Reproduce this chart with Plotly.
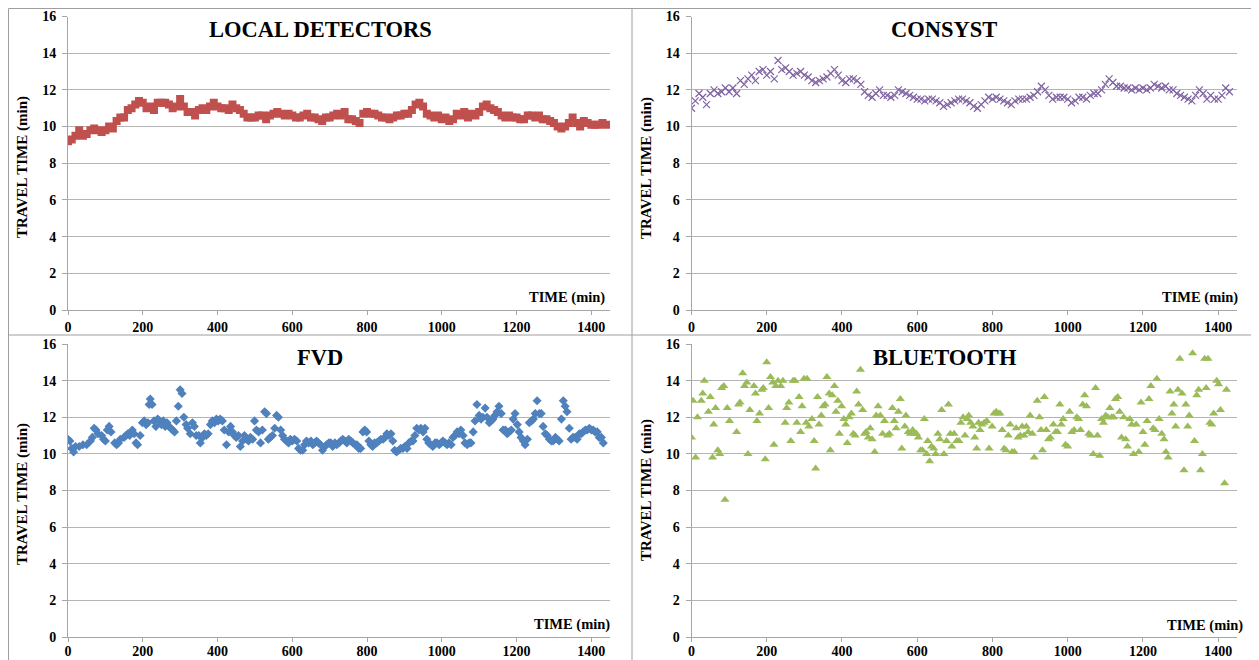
import plotly.graph_objects as go

# ---------------- DATA ----------------
LD_T = list(range(0, 1441, 10))
LD_V = [9.2, 9.3, 9.5, 9.8, 9.5, 9.6, 9.8, 9.9, 9.8, 9.7,
        9.8, 10.0, 9.9, 10.3, 10.5, 10.5, 10.9, 11.0, 11.2, 11.4,
        11.3, 11.0, 11.1, 10.9, 11.3, 11.3, 11.3, 11.2, 11.0, 11.1,
        11.5, 11.1, 10.8, 10.8, 10.6, 10.9, 11.0, 10.9, 11.1, 11.3,
        11.1, 11.0, 11.0, 10.9, 11.2, 11.0, 10.9, 10.7, 10.5, 10.5,
        10.5, 10.6, 10.6, 10.4, 10.6, 10.7, 10.8, 10.7, 10.6, 10.7,
        10.6, 10.5, 10.5, 10.6, 10.7, 10.5, 10.5, 10.4, 10.3, 10.5,
        10.5, 10.6, 10.7, 10.6, 10.8, 10.4, 10.4, 10.3, 10.2, 10.7,
        10.8, 10.7, 10.7, 10.6, 10.5, 10.5, 10.4, 10.5, 10.6, 10.6,
        10.7, 10.7, 10.9, 11.2, 11.3, 11.1, 10.7, 10.6, 10.5, 10.6,
        10.4, 10.5, 10.3, 10.4, 10.7, 10.6, 10.8, 10.5, 10.7, 10.6,
        10.8, 11.1, 11.2, 11.0, 10.9, 10.8, 10.6, 10.5, 10.6, 10.5,
        10.5, 10.4, 10.4, 10.6, 10.6, 10.5, 10.6, 10.4, 10.4, 10.3,
        10.2, 10.0, 9.9, 10.0, 10.2, 10.5, 10.2, 10.0, 10.3, 10.2,
        10.1, 10.1, 10.1, 10.2, 10.1]

CS_T = list(range(0, 1431, 10))
CS_V = [11.0, 11.4, 11.8, 11.6, 11.2, 11.8, 12.0, 11.8, 11.9, 12.1,
        11.9, 12.1, 11.8, 12.5, 12.3, 12.6, 12.8, 12.5, 13.0, 13.1,
        12.8, 13.0, 12.6, 13.6, 13.1, 13.2, 13.0, 12.8, 12.9, 13.0,
        12.8, 12.7, 12.5, 12.4, 12.5, 12.6, 12.7, 12.9, 13.1, 12.8,
        12.5, 12.4, 12.6, 12.6, 12.5, 12.3, 11.9, 11.7, 11.6, 11.8,
        12.0, 11.7, 11.7, 11.6, 11.7, 12.0, 11.9, 11.8, 11.7, 11.6,
        11.5, 11.5, 11.4, 11.5, 11.5, 11.4, 11.3, 11.1, 11.2, 11.3,
        11.4, 11.5, 11.5, 11.4, 11.3, 11.1, 11.0, 11.2, 11.4, 11.6,
        11.5, 11.6, 11.5, 11.4, 11.3, 11.2, 11.4, 11.5, 11.5, 11.5,
        11.6, 11.7, 11.9, 12.2, 12.0, 11.7, 11.5, 11.6, 11.6, 11.6,
        11.5, 11.3, 11.4, 11.6, 11.6, 11.5, 11.7, 11.8, 11.8, 12.0,
        12.3, 12.6, 12.4, 12.2, 12.2, 12.1, 12.1, 12.0, 12.1, 12.0,
        12.1, 12.0, 12.1, 12.3, 12.2, 12.1, 12.2, 12.0, 12.0, 11.8,
        11.7, 11.6, 11.5, 11.4, 11.7, 12.0, 11.8, 11.5, 11.7, 11.5,
        11.5, 11.7, 12.1, 11.9]

FVD_T = [0, 5, 10, 15, 20, 30, 40, 50, 60, 65, 70, 75, 80, 90, 95, 100, 105, 110, 115, 125,
         130, 135, 140, 150, 155, 160, 165, 172, 177, 182, 186, 193, 199, 204, 209, 214, 217, 220, 225, 230,
         235, 240, 245, 250, 255, 260, 265, 270, 275, 280, 285, 290, 295, 300, 305, 310, 316, 320, 327, 333,
         338, 343, 350, 354, 360, 365, 370, 375, 381, 386, 392, 397, 402, 407, 413, 418, 424, 430, 435, 440,
         445, 450, 456, 461, 467, 472, 478, 483, 488, 494, 499, 504, 510, 515, 520, 526, 531, 536, 541, 547,
         553, 558, 563, 569, 574, 579, 585, 590, 595, 600, 606, 612, 617, 622, 628, 633, 638, 644, 650, 655,
         660, 665, 670, 676, 681, 687, 692, 698, 703, 708, 714, 719, 725, 730, 735, 741, 746, 751, 757, 762,
         768, 773, 778, 783, 789, 794, 799, 805, 810, 815, 820, 826, 832, 837, 843, 848, 853, 859, 864, 869,
         874, 879, 885, 890, 896, 901, 907, 912, 918, 923, 928, 933, 939, 944, 950, 955, 960, 965, 971, 976,
         982, 987, 993, 998, 1003, 1009, 1014, 1019, 1025, 1030, 1035, 1041, 1046, 1051, 1057, 1062, 1068, 1073, 1078, 1084,
         1089, 1094, 1100, 1105, 1110, 1116, 1121, 1127, 1132, 1137, 1142, 1148, 1153, 1159, 1164, 1170, 1175, 1180, 1186, 1191,
         1196, 1202, 1207, 1212, 1218, 1223, 1229, 1234, 1240, 1245, 1250, 1255, 1261, 1266, 1271, 1277, 1282, 1288, 1293, 1298,
         1304, 1309, 1314, 1320, 1325, 1330, 1335, 1341, 1346, 1351, 1357, 1362, 1368, 1373, 1378, 1384, 1389, 1395, 1400, 1405,
         1410, 1416, 1421, 1427, 1432]
FVD_V = [10.8, 10.7, 10.3, 10.1, 10.4, 10.4, 10.5, 10.5, 10.7, 10.9, 11.4, 11.3, 11.1, 11.0, 10.8, 10.7, 11.3, 11.5, 11.2, 10.6,
         10.5, 10.6, 10.8, 10.9, 11.0, 11.1, 11.0, 11.3, 11.1, 10.6, 10.5, 11.0, 11.7, 11.8, 11.6, 11.7, 12.7, 13.0, 12.7, 11.8,
         11.5, 11.9, 11.8, 11.6, 11.8, 11.5, 11.7, 11.5, 11.4, 11.3, 11.2, 11.8, 12.6, 13.5, 13.3, 12.0, 11.6, 11.4, 11.1, 11.7,
         11.5, 11.0, 11.0, 10.6, 10.9, 11.1, 11.0, 11.1, 11.6, 11.8, 11.7, 11.9, 11.8, 11.9, 11.8, 11.3, 10.5, 11.2, 11.5, 11.2,
         11.0, 10.9, 11.0, 10.4, 10.7, 11.0, 10.8, 10.7, 10.9, 10.8, 11.8, 11.3, 11.2, 10.6, 11.3, 12.3, 12.2, 10.8, 10.9, 11.0,
         11.4, 12.1, 12.0, 11.3, 11.0, 10.8, 10.7, 10.6, 10.8, 10.7, 10.8, 10.7, 10.3, 10.2, 10.2, 10.5, 10.7, 10.6, 10.7, 10.5,
         10.6, 10.7, 10.6, 10.5, 10.2, 10.4, 10.5, 10.6, 10.6, 10.4, 10.6, 10.5, 10.6, 10.7, 10.8, 10.7, 10.6, 10.8, 10.7, 10.6,
         10.5, 10.5, 10.3, 10.3, 11.2, 11.3, 11.2, 10.7, 10.5, 10.4, 10.6, 10.6, 10.7, 10.8, 10.8, 10.9, 11.1, 11.0, 11.1, 10.7,
         10.2, 10.1, 10.2, 10.3, 10.3, 10.4, 10.3, 10.6, 10.7, 10.7, 11.0, 11.4, 11.3, 11.4, 11.2, 11.4, 10.8, 10.6, 10.5, 10.4,
         10.6, 10.6, 10.5, 10.6, 10.7, 10.6, 10.5, 10.6, 10.5, 10.9, 11.0, 11.2, 11.1, 11.3, 11.0, 10.6, 10.5, 10.6, 10.6, 11.2,
         11.8, 12.7, 12.1, 11.9, 12.0, 12.5, 12.0, 11.7, 11.8, 11.9, 12.1, 12.3, 12.6, 12.2, 11.3, 11.3, 11.1, 11.2, 11.3, 11.9,
         12.2, 11.6, 11.2, 10.9, 10.7, 10.5, 10.8, 11.7, 11.8, 11.9, 12.2, 12.9, 12.2, 12.2, 11.5, 11.1, 11.0, 10.8, 10.7, 10.7,
         10.9, 10.8, 10.7, 11.9, 12.9, 12.6, 12.3, 11.4, 10.8, 10.9, 10.9, 10.8, 11.1, 11.1, 11.2, 11.3, 11.3, 11.4, 11.3, 11.3,
         11.2, 11.2, 10.9, 10.9, 10.6]

BT_T = [0, 4, 11, 16, 26, 30, 34, 45, 50, 56, 59, 64, 70, 75, 80, 86, 89, 95, 101, 120,
        125, 129, 136, 141, 147, 150, 155, 166, 170, 174, 181, 187, 191, 196, 200, 205, 210, 216, 219, 224,
        230, 237, 243, 249, 253, 259, 264, 270, 275, 280, 286, 290, 294, 299, 305, 307, 312, 320, 326, 330,
        335, 339, 345, 350, 355, 360, 366, 369, 374, 380, 384, 389, 393, 399, 405, 410, 414, 419, 425, 430,
        435, 439, 444, 449, 455, 460, 464, 470, 475, 480, 487, 491, 496, 502, 508, 513, 521, 526, 534, 539,
        544, 550, 555, 559, 567, 570, 576, 582, 588, 593, 598, 603, 609, 614, 619, 625, 628, 633, 638, 644,
        649, 655, 660, 665, 671, 678, 683, 688, 692, 698, 705, 711, 716, 722, 727, 733, 737, 742, 748, 753,
        758, 763, 767, 772, 778, 785, 791, 799, 804, 810, 815, 820, 826, 831, 836, 842, 847, 852, 858, 863,
        868, 874, 879, 884, 890, 895, 900, 906, 911, 919, 925, 929, 933, 938, 943, 949, 954, 962, 968, 973,
        979, 983, 988, 994, 1000, 1005, 1011, 1017, 1024, 1029, 1034, 1040, 1045, 1050, 1056, 1061, 1068, 1074, 1079, 1085,
        1090, 1095, 1101, 1107, 1112, 1117, 1122, 1127, 1133, 1138, 1143, 1149, 1154, 1159, 1165, 1170, 1175, 1182, 1189, 1195,
        1200, 1205, 1211, 1216, 1221, 1227, 1232, 1237, 1243, 1250, 1256, 1261, 1267, 1272, 1277, 1282, 1287, 1293, 1298, 1304,
        1309, 1314, 1319, 1323, 1332, 1337, 1343, 1348, 1353, 1358, 1364, 1368, 1373, 1378, 1383, 1388, 1396, 1401, 1406, 1417,
        1422]
BT_V = [10.9, 12.9, 9.8, 12.0, 12.9, 13.3, 14.0, 12.3, 13.1, 9.8, 11.6, 12.5, 10.2, 10.0, 13.6, 13.7, 7.5, 12.5, 11.8, 11.2,
        12.7, 12.8, 14.4, 13.7, 13.9, 10.0, 12.4, 13.7, 13.3, 11.8, 12.2, 13.5, 13.6, 9.7, 15.0, 12.5, 14.2, 13.9, 10.5, 13.7,
        14.0, 13.7, 14.0, 11.7, 12.5, 12.8, 10.7, 14.0, 14.0, 11.7, 13.1, 11.2, 12.6, 14.1, 11.7, 14.1, 11.5, 11.9, 10.7, 9.2,
        13.1, 11.6, 12.1, 12.6, 12.7, 14.2, 13.3, 10.2, 13.2, 13.7, 12.3, 12.9, 11.1, 12.6, 11.9, 11.6, 10.6, 12.0, 12.2, 11.1,
        11.0, 13.4, 12.7, 14.6, 12.4, 11.1, 11.2, 10.9, 11.4, 10.8, 10.1, 12.1, 12.6, 12.1, 11.1, 11.8, 11.0, 11.1, 12.5, 11.8,
        11.4, 12.3, 13.0, 10.3, 11.5, 12.1, 11.2, 11.1, 11.3, 11.1, 11.1, 10.9, 10.2, 10.2, 11.9, 10.0, 10.7, 9.6, 10.4, 10.3,
        10.0, 11.1, 10.8, 12.4, 10.0, 10.7, 12.7, 11.1, 10.4, 11.1, 10.7, 10.7, 11.7, 12.0, 11.0, 11.9, 12.1, 11.7, 11.5, 10.9,
        10.3, 11.7, 11.3, 11.6, 11.7, 11.8, 10.3, 11.5, 12.2, 12.3, 12.2, 12.2, 11.3, 10.3, 10.2, 11.0, 11.6, 10.1, 10.1, 11.4,
        10.9, 11.0, 11.5, 11.0, 11.5, 11.2, 12.1, 11.1, 9.8, 12.9, 12.0, 11.3, 10.2, 13.1, 11.3, 10.8, 10.9, 11.6, 11.2, 11.2,
        12.7, 11.6, 11.9, 10.5, 10.4, 12.3, 11.2, 11.3, 12.0, 11.9, 11.3, 12.7, 13.2, 12.6, 11.1, 11.0, 10.0, 13.6, 11.0, 9.9,
        11.9, 11.7, 12.1, 12.0, 12.5, 12.0, 12.0, 13.0, 13.1, 12.3, 10.9, 12.0, 10.8, 10.4, 11.9, 11.6, 10.0, 11.6, 10.1, 12.8,
        11.2, 10.5, 11.8, 13.0, 13.7, 11.4, 11.3, 14.1, 11.9, 11.1, 10.8, 10.1, 9.8, 13.4, 12.2, 12.7, 11.5, 13.5, 15.2, 13.3,
        9.1, 12.7, 11.5, 12.1, 15.5, 10.7, 13.2, 13.5, 9.1, 10.0, 15.2, 13.6, 15.2, 11.7, 11.6, 12.2, 14.0, 13.8, 12.4, 8.4,
        13.5]

TITLES = ["LOCAL DETECTORS", "CONSYST", "FVD", "BLUETOOTH"]
X_TICKS = [0, 200, 400, 600, 800, 1000, 1200, 1400]
Y_TICKS = [0, 2, 4, 6, 8, 10, 12, 14, 16]
Y_TITLE = "TRAVEL TIME (min)"
X_TITLE = "TIME (min)"

# ---------------- LAYOUT HELPERS ----------------
# The page body has an 8px margin, so the figure starts at (8, 8) in the window.
OFF = 8
W, H = 1259 - OFF, 660 - OFF
FONT = "Liberation Serif, Times New Roman, serif"


def fx(p):
    return (p - OFF) / W


def fy(p):
    return 1 - (p - OFF) / H


fig = go.Figure()

panels = [
    dict(t=LD_T, v=LD_V, color="#C0504D", symbol="square", size=8, xd=(68, 610), yd=(16.5, 310),
         title_xy=(320, 29), ytitle_xy=(22, 167), xtitle_xy=(607, 297), xstand=0),
    dict(t=CS_T, v=CS_V, color="#8064A2", symbol="x-thin", size=7, xd=(691.5, 1237), yd=(16.5, 310),
         title_xy=(944, 29), ytitle_xy=(646, 168), xtitle_xy=(1240, 297), xstand=0),
    dict(t=FVD_T, v=FVD_V, color="#4F81BD", symbol="diamond", size=7, xd=(68, 610), yd=(344, 637),
         title_xy=(320, 357), ytitle_xy=(22, 494), xtitle_xy=(612, 624), xstand=-3),
    dict(t=BT_T, v=BT_V, color="#9BBB59", symbol="triangle-up", size=8, xd=(691.5, 1237), yd=(344, 637),
         title_xy=(945, 357), ytitle_xy=(647, 490), xtitle_xy=(1245, 625), xstand=-3),
]

annotations = []
for i, p in enumerate(panels):
    k = "" if i == 0 else str(i + 1)
    marker = dict(symbol=p["symbol"], size=p["size"], color=p["color"])
    if p["symbol"] == "x-thin":
        marker["line"] = dict(width=1.2, color=p["color"])
    else:
        marker["line"] = dict(width=0)
    fig.add_trace(go.Scatter(x=p["t"], y=p["v"], mode="markers", marker=marker,
                             xaxis="x" + k, yaxis="y" + k, showlegend=False, name=TITLES[i]))
    fig.layout["xaxis" + k] = dict(
        domain=[fx(p["xd"][0]), fx(p["xd"][1])], range=[0, 1450], anchor="y" + k,
        tickvals=X_TICKS, showgrid=False, zeroline=False, showline=True, linecolor="#A6A6A6",
        ticks="outside", ticklen=4, tickcolor="#A6A6A6", automargin=False,
        ticklabelstandoff=p["xstand"],
        tickfont=dict(family=FONT, size=14, color="black", weight="bold"), fixedrange=True)
    fig.layout["yaxis" + k] = dict(
        domain=[fy(p["yd"][1]), fy(p["yd"][0])], range=[0, 16], anchor="x" + k,
        tickvals=Y_TICKS, showgrid=True, gridcolor="#B4B4B4", gridwidth=1, zeroline=False,
        showline=True, linecolor="#A6A6A6", ticks="outside", ticklen=5, tickcolor="#A6A6A6",
        ticklabelstandoff=3, automargin=False,
        tickfont=dict(family=FONT, size=14, color="black", weight="bold"), fixedrange=True)
    annotations.append(dict(text=TITLES[i], x=fx(p["title_xy"][0]), y=fy(p["title_xy"][1]),
                            xref="paper", yref="paper", showarrow=False, xanchor="center", yanchor="middle",
                            font=dict(family=FONT, size=22.5, color="black", weight="bold")))
    annotations.append(dict(text=Y_TITLE, x=fx(p["ytitle_xy"][0]), y=fy(p["ytitle_xy"][1]),
                            xref="paper", yref="paper", showarrow=False, textangle=-90,
                            xanchor="center", yanchor="middle",
                            font=dict(family=FONT, size=15, color="black", weight="bold")))
    annotations.append(dict(text=X_TITLE, x=fx(p["xtitle_xy"][0]), y=fy(p["xtitle_xy"][1]),
                            xref="paper", yref="paper", showarrow=False, xanchor="right", yanchor="middle",
                            font=dict(family=FONT, size=14.5, color="black", weight="bold")))

border = "#9E9E9E"
shapes = [
    dict(type="rect", xref="paper", yref="paper", x0=fx(8.5), x1=fx(1257), y0=fy(662), y1=fy(8.5),
         line=dict(color=border, width=1)),
    dict(type="line", xref="paper", yref="paper", x0=fx(632), x1=fx(632), y0=fy(662), y1=fy(8.5),
         line=dict(color=border, width=1)),
    dict(type="line", xref="paper", yref="paper", x0=fx(8.5), x1=fx(1257), y0=fy(335), y1=fy(335),
         line=dict(color=border, width=1)),
]

fig.update_layout(width=W, height=H, margin=dict(l=0, r=0, t=0, b=0),
                  paper_bgcolor="white", plot_bgcolor="white",
                  annotations=annotations, shapes=shapes, showlegend=False)

fig.write_html("out.html")
